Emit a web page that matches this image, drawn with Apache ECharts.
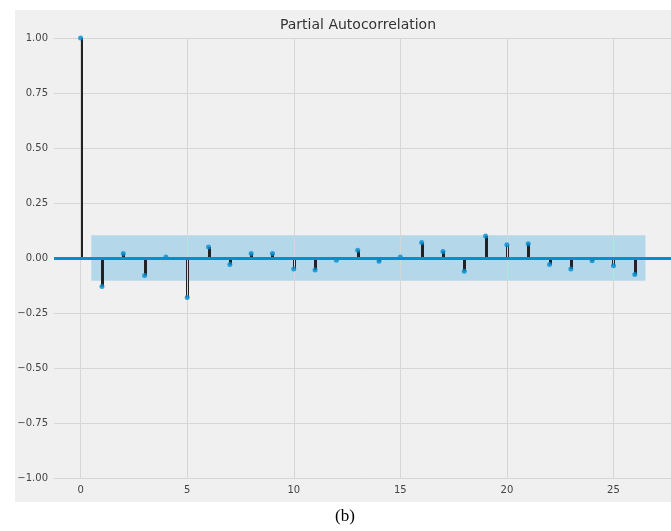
<!DOCTYPE html>
<html>
<head>
<meta charset="utf-8">
<script src="https://cdn.jsdelivr.net/npm/echarts@6/dist/echarts.min.js"></script>
<style>html,body{margin:0;padding:0;background:#fff;}#c{width:671px;height:531px;}</style>
</head>
<body>
<div id="c"></div>
<script>
const lags = [0,1,2,3,4,5,6,7,8,9,10,11,12,13,14,15,16,17,18,19,20,21,22,23,24,25,26];
const pacf = [1.0,-0.13,0.02,-0.08,0.005,-0.18,0.05,-0.03,0.02,0.02,-0.05,-0.055,-0.01,0.035,-0.015,0.005,0.07,0.03,-0.06,0.1,0.06,0.065,-0.03,-0.05,-0.013,-0.035,-0.075];
const confBound = 0.103;
const confRange = [0.5, 26.5];
const xTicks = [0,5,10,15,20,25];
const titleText = 'Partial Autocorrelation';
const captionText = '(b)';

const chart = echarts.init(document.getElementById('c'), null, {renderer:'canvas'});
const gridColor = '#d6d6d6';
const blue = '#008fd5';

chart.setOption({
  animation: false,
  backgroundColor: '#ffffff',
  graphic: [
    {type:'rect', z:-100, shape:{x:15,y:10,width:656,height:492}, style:{fill:'#f0f0f0'}},
    {type:'text', z:10, x:358, y:25, style:{text:titleText, font:'14px "DejaVu Sans"', fill:'#333', align:'center', verticalAlign:'middle'}},
    {type:'text', z:10, x:345, y:517, style:{text:captionText, font:'17px "Liberation Serif"', fill:'#000', align:'center', verticalAlign:'middle'}}
  ],
  grid: {left:54, right:0, top:38, bottom:53, containLabel:false},
  xAxis: {
    type:'value', min:-1.25, max:27.7,
    axisLine:{show:false}, axisTick:{show:false}, splitLine:{show:false},
    axisLabel:{customValues:xTicks, color:'#444', fontSize:10, fontFamily:'DejaVu Sans', margin:7}
  },
  yAxis: {
    type:'value', min:-1, max:1, interval:0.25,
    axisLine:{show:false}, axisTick:{show:false},
    splitLine:{show:true, lineStyle:{color:gridColor, width:1}},
    axisLabel:{color:'#444', fontSize:10, fontFamily:'DejaVu Sans', margin:6, formatter:v=>v.toFixed(2).replace('-','\u2212')}
  },
  series: [
    {
      type:'line', data:[], silent:true,
      markLine:{symbol:'none', silent:true, label:{show:false},
        lineStyle:{color:gridColor, width:1, type:'solid'},
        data: xTicks.map(t=>({xAxis:t}))}
    },
    {
      type:'line', data:[], silent:true, z:3,
      markArea:{silent:true, itemStyle:{color:'rgba(0,143,213,0.25)'},
        data:[[{xAxis:confRange[0], yAxis:-confBound},{xAxis:confRange[1], yAxis:confBound}]]}
    },
    {
      type:'custom', z:4, silent:true,
      data: lags.map((l,i)=>[l,pacf[i]]),
      renderItem: function(params, api){
        const p0 = api.coord([api.value(0), 0]);
        const p1 = api.coord([api.value(0), api.value(1)]);
        return {type:'line', shape:{x1:Math.round(p0[0])+0.5, y1:p0[1], x2:Math.round(p1[0])+0.5, y2:p1[1]},
                style:{stroke:'#222', lineWidth:3}};
      }
    },
    {
      type:'line', data:[], silent:true, z:5,
      markLine:{symbol:'none', silent:true, label:{show:false},
        lineStyle:{color:blue, width:3, type:'solid'},
        data:[{yAxis:0}]}
    },
    {
      type:'scatter', z:6, symbolSize:5, silent:true,
      itemStyle:{color:blue},
      data: lags.map((l,i)=>[l,pacf[i]])
    }
  ]
});
</script>
</body>
</html>
